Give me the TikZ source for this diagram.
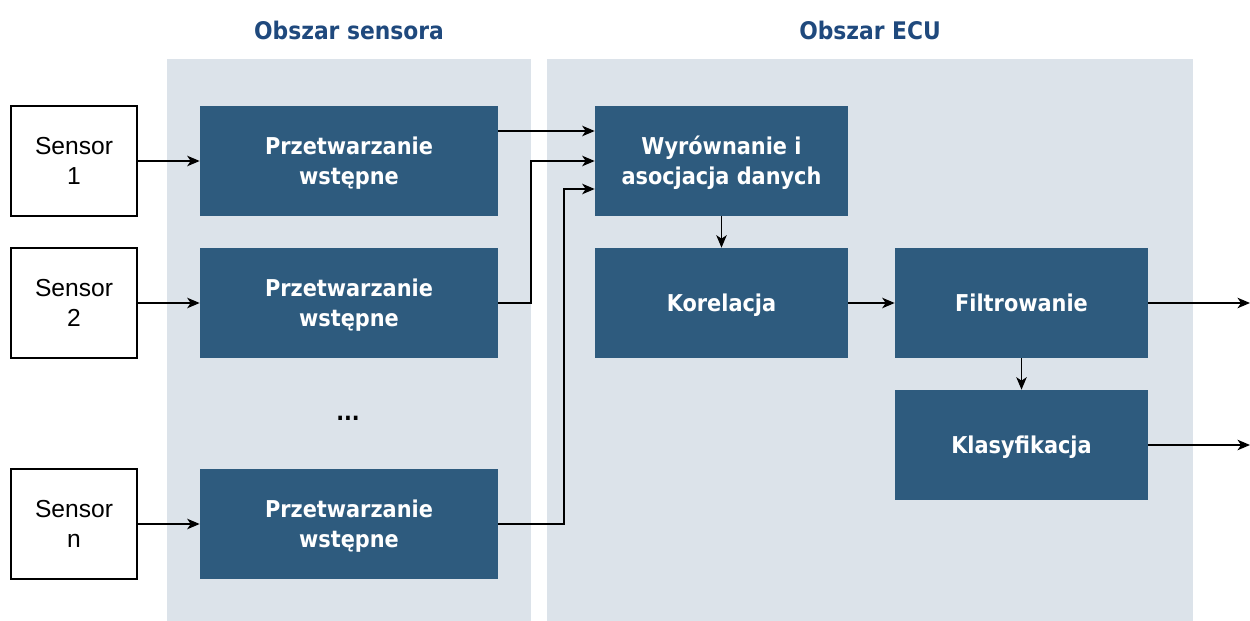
\documentclass[tikz,border=0pt]{standalone}
\usepackage{fontspec}
\setmainfont{Liberation Sans}
\newfontfamily\tahoma{DejaVu Sans Condensed}
\usetikzlibrary{arrows.meta}
\definecolor{boxblue}{HTML}{2E5B7E}
\definecolor{areagray}{HTML}{DCE3EA}
\definecolor{titleblue}{HTML}{1F497D}
\newcommand\boxtext[1]{\raisebox{-1.5pt}[\height][\depth]{\begin{tabular}{@{}c@{}}#1\end{tabular}}}
\tikzset{
  px/.style={x=0.02cm,y=-0.02cm},
  area/.style={fill=areagray,draw=none},
  sensorbox/.style={draw=black,fill=white,line width=0.6pt,minimum width=2.52cm,minimum height=2.2cm,inner sep=0pt,align=center,font=\fontsize{14}{17.3}\selectfont},
  procbox/.style={fill=boxblue,draw=none,text=white,inner sep=0pt,font=\tahoma\bfseries\fontsize{13.2}{17}\selectfont},
  conn/.style={line width=0.7pt,-{Stealth[length=0.25cm,width=0.21cm,inset=0.07cm]}},
  title/.style={text=titleblue,font=\tahoma\bfseries\fontsize{13.8}{16}\selectfont}
}
\begin{document}
\begin{tikzpicture}[px]
\useasboundingbox (0,0) rectangle (1250,621);
\fill[area] (167,59) rectangle (531,621);
\fill[area] (547,59) rectangle (1193,621);
\node[title] (t1) at (349,30) {Obszar sensora};
\node[title] (t2) at (870,30) {Obszar ECU};

\node[sensorbox] (s1) at (74,161) {Sensor\\1};
\node[sensorbox] (s2) at (74,303) {Sensor\\2};
\node[sensorbox] (sn) at (74,524) {Sensor\\n};

\node[procbox,minimum width=5.96cm,minimum height=2.2cm] (p1) at (349,161) {\boxtext{Przetwarzanie\\wstępne}};
\node[procbox,minimum width=5.96cm,minimum height=2.2cm] (p2) at (349,303) {\boxtext{Przetwarzanie\\wstępne}};
\node[procbox,minimum width=5.96cm,minimum height=2.2cm] (pn) at (349,524) {\boxtext{Przetwarzanie\\wstępne}};
\node[font=\tahoma\bfseries\fontsize{13}{16}\selectfont] (dots) at (348,418) {...};

\node[procbox,minimum width=5.06cm,minimum height=2.2cm] (w) at (721.5,161) {\boxtext{Wyrównanie i\\asocjacja danych}};
\node[procbox,minimum width=5.06cm,minimum height=2.2cm] (k) at (721.5,303) {\boxtext{Korelacja}};
\node[procbox,minimum width=5.06cm,minimum height=2.2cm] (f) at (1021.5,303) {\boxtext{Filtrowanie}};
\node[procbox,minimum width=5.06cm,minimum height=2.2cm] (c) at (1021.5,445) {\boxtext{Klasyfikacja}};

\coordinate (o1) at (1250,303);
\coordinate (o2) at (1250,445);

\draw[conn] (s1) -- (p1);
\draw[conn] (s2) -- (p2);
\draw[conn] (sn) -- (pn);
\draw[conn] (p1.east |- 0,131) -- (w.west |- 0,131);
\draw[conn] (p2.east) -| (531,161) -- (w.west |- 0,161);
\draw[conn] (pn.east) -| (564,189) -- (w.west |- 0,189);
\draw[conn] (w) -- (k);
\draw[conn] (k) -- (f);
\draw[conn] (f) -- (c);
\draw[conn] (f.east) -- (o1);
\draw[conn] (c.east) -- (o2);
\end{tikzpicture}
\end{document}
